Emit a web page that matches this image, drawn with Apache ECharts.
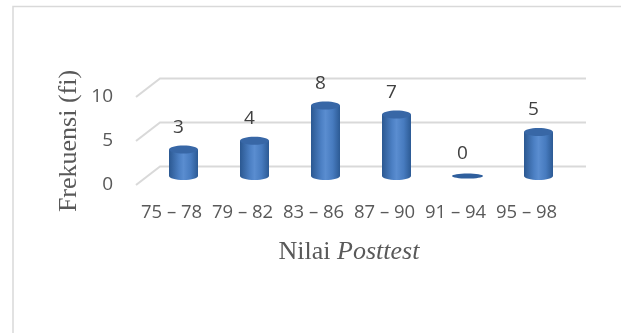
<!DOCTYPE html>
<html>
<head>
<meta charset="utf-8">
<script src="https://cdn.jsdelivr.net/npm/echarts@6/dist/echarts.min.js"></script>
<style>
  html, body { margin: 0; padding: 0; background: #fff; }
  #chart { width: 621px; height: 333px; }
</style>
</head>
<body>
<div id="chart"></div>
<script>
// Frequency distribution of posttest scores
const categories = ['75 – 78', '79 – 82', '83 – 86', '87 – 90', '91 – 94', '95 – 98'];
const frequencies = [3, 4, 8, 7, 0, 5];
const yTicks = [0, 5, 10];

// pseudo-3D depth offsets (back wall and bar row)
const WALL_DX = 24, WALL_DY = -18.5;
const BAR_DX = 12, BAR_DY = -9;
const BAR_W = 29, CAP_RY = 4;

const chart = echarts.init(document.getElementById('chart'), null, { renderer: 'canvas' });

const bodyFill = new echarts.graphic.LinearGradient(0, 0, 1, 0, [
  { offset: 0, color: '#2b5891' },
  { offset: 0.35, color: '#4c80c4' },
  { offset: 0.5, color: '#5a8dd0' },
  { offset: 0.75, color: '#477bbf' },
  { offset: 1, color: '#2c5a94' }
]);

function renderGrid(params, api) {
  const cs = params.coordSys;
  const y = api.coord([0, api.value(1)])[1];
  const left = cs.x, right = cs.x + cs.width;
  return {
    type: 'polyline',
    shape: { points: [[left, y], [left + WALL_DX, y + WALL_DY], [right + WALL_DX, y + WALL_DY]] },
    style: { stroke: '#d9d9d9', lineWidth: 2, fill: null },
    silent: true
  };
}

function renderBar(params, api) {
  const v = api.value(1);
  const base = api.coord([api.value(0), 0]);
  const top = api.coord([api.value(0), v]);
  const cx = base[0] + BAR_DX;
  const baseY = base[1] + BAR_DY;
  const topY = top[1] + BAR_DY;
  const rx = BAR_W / 2;
  const children = [];
  if (v > 0) {
    children.push({
      type: 'rect',
      shape: { x: cx - rx, y: topY, width: BAR_W, height: baseY - topY },
      style: { fill: bodyFill }
    });
    children.push({
      type: 'ellipse',
      shape: { cx: cx, cy: baseY, rx: rx, ry: CAP_RY },
      style: { fill: bodyFill }
    });
    children.push({
      type: 'ellipse',
      shape: { cx: cx, cy: topY, rx: rx, ry: CAP_RY },
      style: { fill: '#3867a6' }
    });
  } else {
    children.push({
      type: 'ellipse',
      shape: { cx: cx, cy: baseY, rx: rx + 1, ry: 2.6 },
      style: { fill: '#2f5f9d' }
    });
  }
  children.push({
    type: 'text',
    x: cx - 5,
    y: topY - 22,
    style: {
      text: String(v),
      font: '19px "Open Sans", sans-serif',
      fill: '#404040',
      align: 'center',
      verticalAlign: 'middle'
    }
  });
  return { type: 'group', children: children };
}

chart.setOption({
  animation: false,
  backgroundColor: '#ffffff',
  grid: { left: 136, right: 59, top: 97, bottom: 148 },
  xAxis: {
    type: 'category',
    data: categories,
    axisLine: { show: false },
    axisTick: { show: false },
    axisLabel: {
      margin: 18,
      fontFamily: 'Open Sans',
      fontSize: 18.5,
      color: '#595959',
      interval: 0
    }
  },
  yAxis: {
    type: 'value',
    min: 0,
    max: 10,
    interval: 5,
    axisLine: { show: false },
    axisTick: { show: false },
    splitLine: { show: false },
    axisLabel: {
      margin: 23,
      fontFamily: 'Open Sans',
      fontSize: 19,
      color: '#595959'
    }
  },
  series: [
    {
      type: 'custom',
      renderItem: renderGrid,
      data: yTicks.map(t => [0, t]),
      z: 1,
      silent: true
    },
    {
      type: 'custom',
      renderItem: renderBar,
      data: frequencies.map((f, i) => [i, f]),
      z: 2
    }
  ],
  graphic: [
    {
      type: 'rect',
      shape: { x: 13, y: 6.5, width: 700, height: 400 },
      style: { fill: null, stroke: '#d9d9d9', lineWidth: 1.5 },
      silent: true
    },
    {
      type: 'text',
      x: 69,
      y: 141,
      rotation: Math.PI / 2,
      style: {
        text: 'Frekuensi (fi)',
        font: '26px "Liberation Serif", serif',
        fill: '#595959',
        align: 'center',
        verticalAlign: 'middle'
      }
    },
    {
      type: 'text',
      x: 349,
      y: 252,
      style: {
        text: '{a|Nilai }{b|Posttest}',
        align: 'center',
        verticalAlign: 'middle',
        rich: {
          a: { font: '26px "Liberation Serif", serif', fill: '#595959', color: '#595959' },
          b: { font: 'italic 26px "Liberation Serif", serif', fill: '#595959', color: '#595959' }
        }
      }
    }
  ]
});
</script>
</body>
</html>
